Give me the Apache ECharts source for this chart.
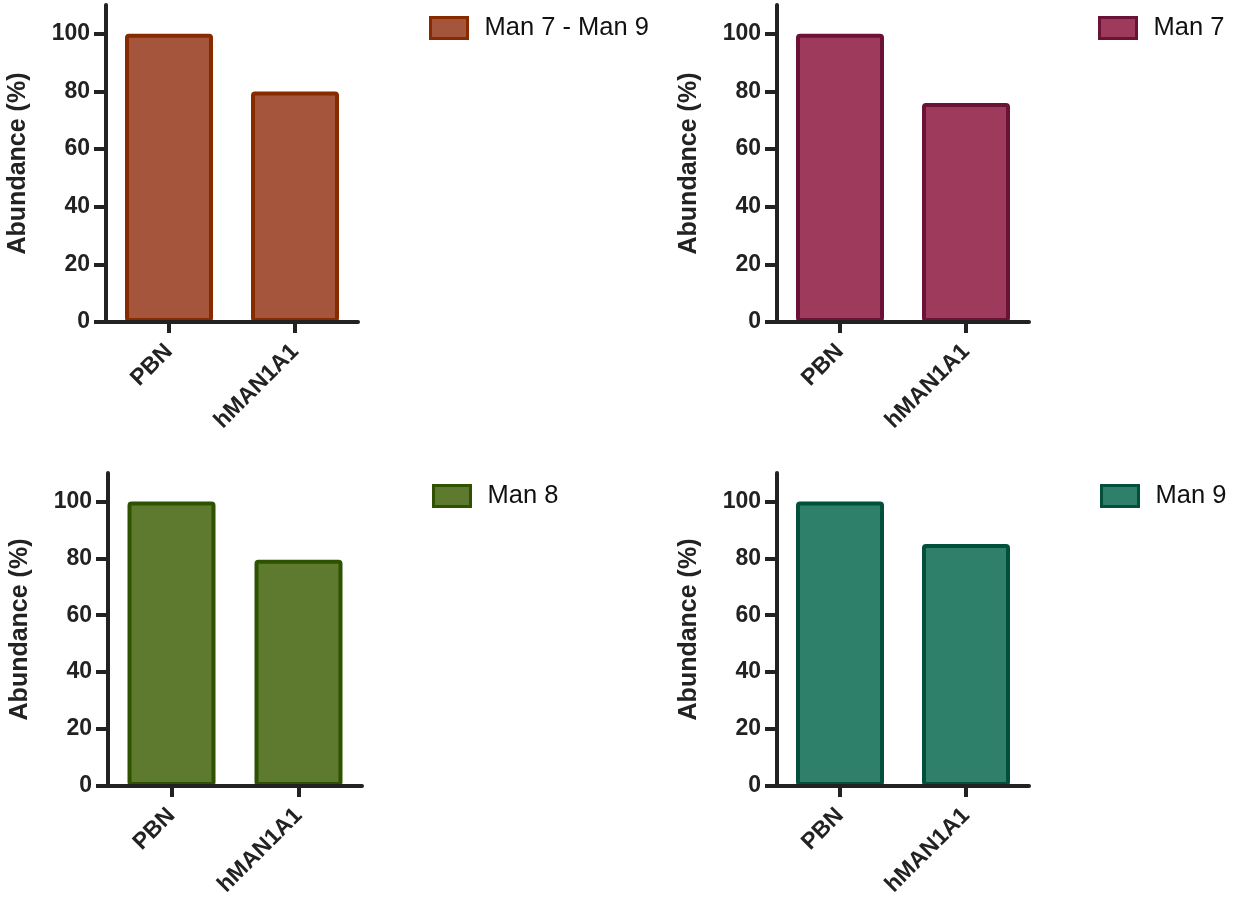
<!DOCTYPE html>
<html>
<head>
<meta charset="utf-8">
<script src="https://cdn.jsdelivr.net/npm/echarts@6/dist/echarts.min.js"></script>
<style>
html,body{margin:0;padding:0;background:#fff;}
#chart{width:1233px;height:899px;}
</style>
</head>
<body>
<div id="chart"></div>
<script>
const categories = ['PBN', 'hMAN1A1'];
const seriesNames = ['Man 7 - Man 9', 'Man 7', 'Man 8', 'Man 9'];
const valuesMan7to9 = [100, 80];
const valuesMan7 = [100, 76];
const valuesMan8 = [100, 79.5];
const valuesMan9 = [100, 85];
const yTicks = [0, 20, 40, 60, 80, 100];
const yName = 'Abundance (%)';

const allValues = [valuesMan7to9, valuesMan7, valuesMan8, valuesMan9];
const fills = ['#A5553B', '#9E3A5C', '#5E7A2E', '#2E806A'];
const borders = ['#872A00', '#6B1236', '#2E5200', '#00503C'];
const grids = [
  {left: 106, top: 5, width: 252, height: 317},
  {left: 777, top: 5, width: 252, height: 317},
  {left: 108, top: 473, width: 254, height: 317},
  {left: 777, top: 473, width: 252, height: 317}
];
const legendPos = [
  {left: 429, top: 15},
  {left: 1098, top: 15},
  {left: 432, top: 483},
  {left: 1100, top: 483}
];

const axisColor = '#222';
const font = 'Liberation Sans, Arial, Helvetica, sans-serif';

const option = {
  animation: false,
  backgroundColor: '#fff',
  grid: grids.map(g => Object.assign({containLabel: false}, g)),
  xAxis: grids.map((g, i) => ({
    type: 'category',
    gridIndex: i,
    data: categories,
    z: 5,
    axisLine: {show: true, lineStyle: {color: axisColor, width: 4}},
    axisTick: {show: true, alignWithLabel: true, length: 11, lineStyle: {color: axisColor, width: 4}},
    axisLabel: {rotate: 45, margin: 26, fontSize: 23, fontWeight: 'bold', color: axisColor, fontFamily: font},
    splitLine: {show: false}
  })),
  yAxis: grids.map((g, i) => ({
    type: 'value',
    gridIndex: i,
    min: 0,
    max: 110,
    interval: 20,
    z: 5,
    name: yName,
    nameLocation: 'middle',
    nameGap: 75,
    nameTextStyle: {fontSize: 25, fontWeight: 'bold', color: axisColor, fontFamily: font},
    axisLine: {show: true, lineStyle: {color: axisColor, width: 4}},
    axisTick: {show: true, length: 12, customValues: yTicks, lineStyle: {color: axisColor, width: 4}},
    axisLabel: {margin: 16, fontSize: 23, fontWeight: 'bold', color: axisColor, fontFamily: font, customValues: yTicks},
    splitLine: {show: false}
  })),
  legend: seriesNames.map((n, i) => ({
    data: [n],
    left: legendPos[i].left,
    top: legendPos[i].top,
    padding: 0,
    itemWidth: 37,
    itemHeight: 21,
    icon: 'rect',
    selectedMode: false,
    itemStyle: {color: fills[i], borderColor: borders[i], borderWidth: 3},
    textStyle: {fontSize: 25.5, color: '#111', fontFamily: font, padding: [0, 0, 0, 12]}
  })),
  series: seriesNames.map((n, i) => ({
    name: n,
    type: 'bar',
    xAxisIndex: i,
    yAxisIndex: i,
    data: allValues[i],
    barWidth: 88,
    itemStyle: {color: fills[i], borderColor: borders[i], borderWidth: 4, borderRadius: 2}
  }))
};

const chart = echarts.init(document.getElementById('chart'));
chart.setOption(option);
</script>
</body>
</html>
